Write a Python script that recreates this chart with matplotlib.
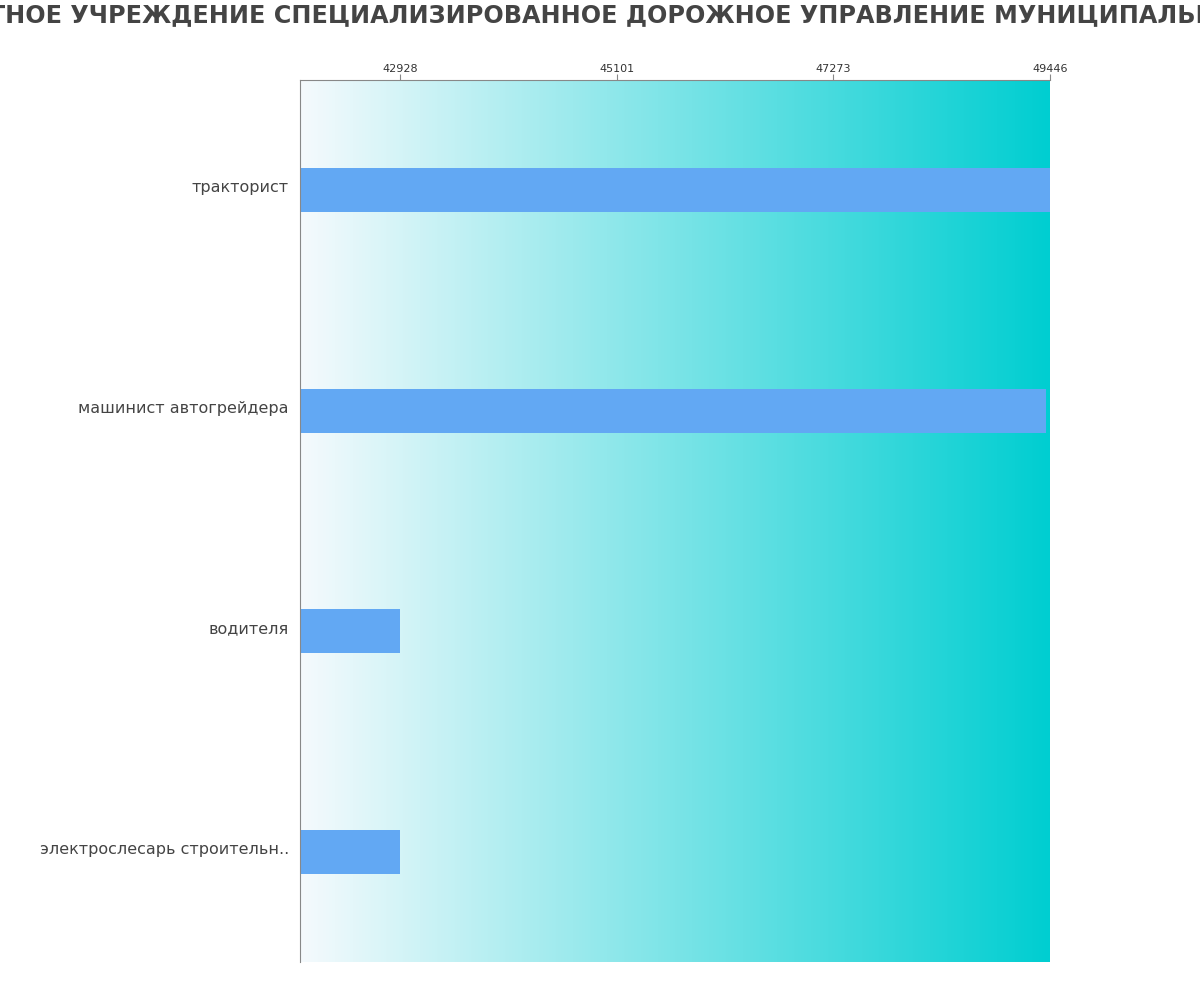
import numpy as np
import matplotlib
matplotlib.use("Agg")
import matplotlib.pyplot as plt
from matplotlib.colors import LinearSegmentedColormap
import matplotlib.transforms as mtransforms

plt.rcParams["font.family"] = ["DejaVu Sans"]

title = "МУНИЦИПАЛЬНОЕ БЮДЖЕТНОЕ УЧРЕЖДЕНИЕ СПЕЦИАЛИЗИРОВАННОЕ ДОРОЖНОЕ УПРАВЛЕНИЕ МУНИЦИПАЛЬНОГО ОБРАЗОВАНИЯ ГОРОД"
categories = ["тракторист", "машинист автогрейдера", "водителя", "электрослесарь строительн.."]
values = [49446, 49406, 42928, 42928]
tick_values = [42928, 45101, 47273, 49446]
x_min = 41925

fig = plt.figure(figsize=(12, 10), dpi=100)
ax = fig.add_axes([0.25, 0.038, 0.625, 0.882])

x_max = max(values)
cmap = LinearSegmentedColormap.from_list("g", ["#F5FAFD", "#00CED1"])
grad = np.linspace(0, 1, 256).reshape(1, -1)
ax.imshow(grad, cmap=cmap, aspect="auto", extent=[x_min, x_max, len(categories) - 0.5, -0.5], zorder=0)

y = np.arange(len(categories))
ax.barh(y, values, height=0.2, color="#62A8F3", zorder=2)
ax.set_xlim(x_min, x_max)
ax.set_ylim(len(categories) - 0.5, -0.5)
ax.set_yticks(y)
ax.set_yticklabels(categories, fontsize=11.5, color="#444444")
ax.tick_params(axis="y", length=0, pad=8)
offset = mtransforms.ScaledTranslation(0, 3 / 72, fig.dpi_scale_trans)
for lbl in ax.get_yticklabels():
    lbl.set_transform(lbl.get_transform() + offset)
ax.xaxis.tick_top()
ax.set_xticks(tick_values)
ax.set_xticklabels([str(v) for v in tick_values], fontsize=8, color="#333333")
ax.tick_params(axis="x", color="#888888", length=4, pad=0.5)
for s in ["right", "bottom"]:
    ax.spines[s].set_visible(False)
for s in ["left", "top"]:
    ax.spines[s].set_color("#888888")

fig.text(0.5, 0.985, title, ha="center", va="center", fontsize=17.2, fontweight="bold", color="#444444")

fig.savefig("out.png", dpi=100)
